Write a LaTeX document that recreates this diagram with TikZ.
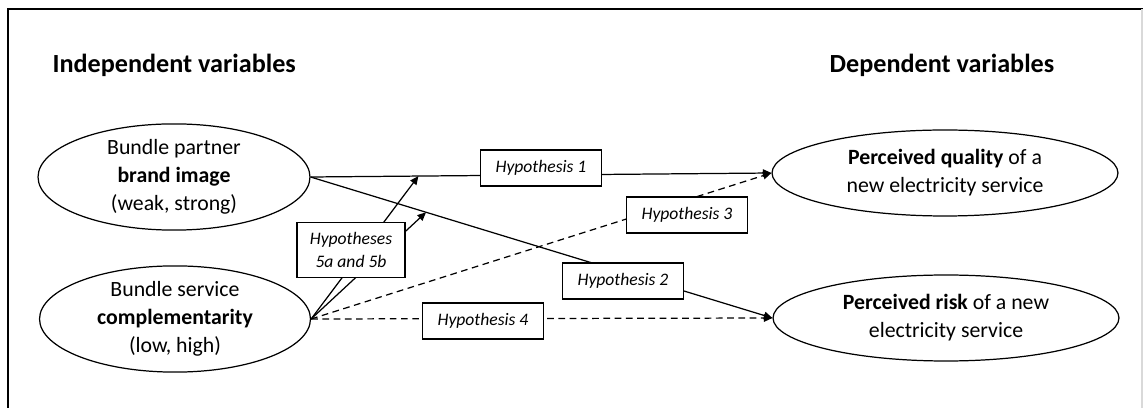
\documentclass[tikz,border=0pt]{standalone}
\usepackage{fontspec}
\setmainfont{Carlito}
\usetikzlibrary{shapes.geometric,arrows.meta}
\begin{document}
\begin{tikzpicture}[x=0.02cm,y=-0.02cm,
  line width=0.7pt,
  heading/.style={font=\fontsize{14.9}{17}\selectfont\bfseries, inner sep=0pt},
  var/.style={draw, ellipse, inner sep=0pt, align=center,
    font=\fontsize{12.4}{16}\selectfont},
  hyp/.style={draw, fill=white, inner sep=0pt, minimum width=2.42cm,
    minimum height=0.72cm, align=center,
    font=\fontsize{10}{13}\selectfont\itshape},
  link/.style={-{Triangle[length=1.7mm,width=1.5mm]}},
  dlink/.style={link, dash pattern=on 3.8pt off 2.6pt}]
\useasboundingbox (0,0) rectangle (1143,408);
% frame
\draw[line width=1.2pt] (8,408) -- (8,9) -- (1143,9);
\draw[line width=0.6pt, black!15] (1142,9) -- (1142,408);

% column headings
\node[heading, anchor=base west] (indep) at (52,73) {Independent variables};
\node[heading, anchor=base west] (dep) at (829,73) {Dependent variables};

% variables
\node[var, minimum width=5.44cm, minimum height=1.96cm] (brand) at (174,177)
  {Bundle partner\\\textbf{brand image}\\(weak, strong)};
\node[var, minimum width=5.42cm, minimum height=1.88cm] (compl) at (175,319)
  {Bundle service\\\textbf{complementarity}\\(low, high)};
\node[var, minimum width=6.92cm, minimum height=1.72cm] (qual) at (945,173)
  {\textbf{Perceived quality} of a\\new electricity service};
\node[var, minimum width=6.92cm, minimum height=1.72cm] (risk) at (946,318)
  {\textbf{Perceived risk} of a new\\electricity service};

% main effects
\draw[link] (brand.east) -- (qual.west)
  coordinate[pos=0.234] (m1);
\draw[link] (brand.east) -- (risk.west)
  coordinate[pos=0.25] (m2);
\draw[dlink] (compl.east) -- (qual.west);
\draw[dlink] (compl.east) -- (risk.west);

% moderation
\draw[link] (compl.east) -- (m1);
\draw[link] (compl.east) -- (m2);

% hypothesis labels
\node[hyp] (h1) at (541,168) {Hypothesis 1};
\node[hyp] (h2) at (623,281) {Hypothesis 2};
\node[hyp] (h3) at (687,215) {Hypothesis 3};
\node[hyp] (h4) at (483,321) {Hypothesis 4};
\node[hyp, minimum width=2.16cm, minimum height=1.1cm] (h5) at (351,250)
  {Hypotheses\\5a and 5b};
\end{tikzpicture}
\end{document}
